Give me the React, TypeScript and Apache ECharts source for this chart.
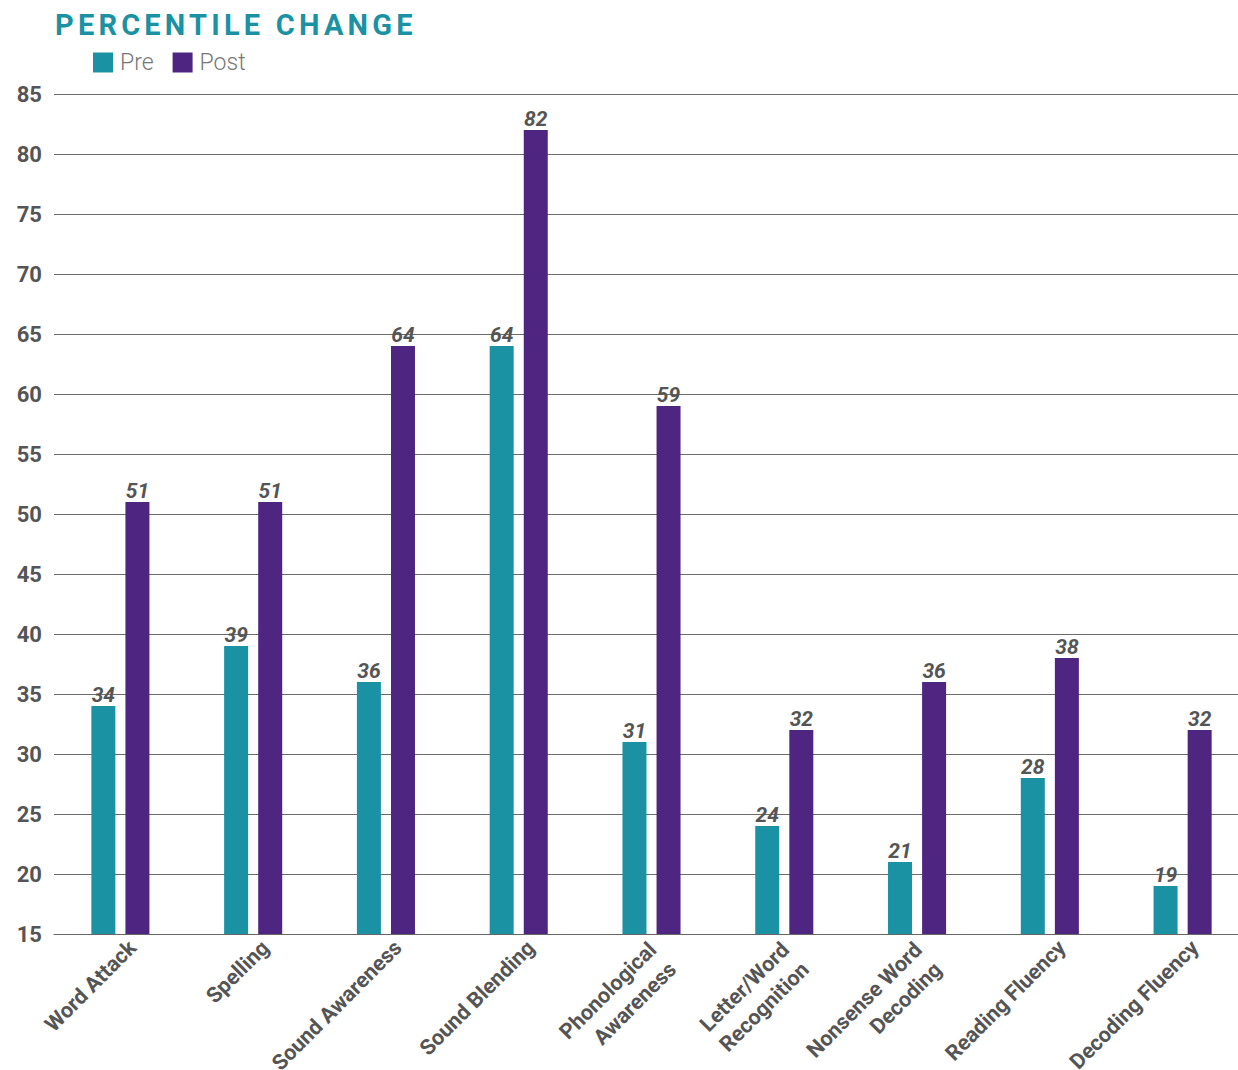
import React, { useEffect, useRef } from "react";
import * as echarts from "echarts";

const categories = [
  "Word Attack",
  "Spelling",
  "Sound Awareness",
  "Sound Blending",
  "Phonological\nAwareness",
  "Letter/Word\nRecognition",
  "Nonsense Word\nDecoding",
  "Reading Fluency",
  "Decoding Fluency",
];
const preValues = [34, 39, 36, 64, 31, 24, 21, 28, 19];
const postValues = [51, 51, 64, 82, 59, 32, 36, 38, 32];
const seriesNames = ["Pre", "Post"];
const titleText = "PERCENTILE CHANGE";

const TEAL = "#1A92A3";
const PURPLE = "#4F2582";
const LABEL = "#555555";

const GRID_LEFT = 54;
const GRID_WIDTH = 1195;
const GRID_TOP = 94;
const GRID_HEIGHT = 840;
const SINGLE_DX = 2;
const SINGLE_MARGIN = 0;
const MULTI_DX = -9;
const MULTI_MARGIN = 2;

export default function App() {
  const ref = useRef<HTMLDivElement>(null);
  useEffect(() => {
    document.body.style.margin = "0";
    const el = ref.current!;
    const chart = echarts.init(el, undefined, { renderer: "svg" });
    const labelStyle = {
      show: true,
      position: "top" as const,
      distance: 1,
      fontFamily: "Roboto",
      fontWeight: "bold" as const,
      fontStyle: "italic" as const,
      fontSize: 21,
      color: LABEL,
    };
    const spaceTitle = () => {
      const texts = el.querySelectorAll("text");
      texts.forEach((t) => {
        if (t.textContent === titleText) {
          t.setAttribute("letter-spacing", "4.2");
        }
      });
    };
    const makeGrid = (dx: number) => ({
      left: GRID_LEFT + dx,
      width: GRID_WIDTH,
      top: GRID_TOP,
      height: GRID_HEIGHT,
      containLabel: false,
      outerBoundsMode: "none",
    });
    const makeLabelAxis = (gridIndex: number, margin: number, multi: boolean) => ({
      type: "category",
      gridIndex,
      data: categories,
      axisTick: { show: false },
      axisLine: { show: false },
      splitLine: { show: false },
      axisLabel: {
        interval: 0,
        rotate: 45,
        margin,
        verticalAlign: "top",
        fontSize: 21.5,
        fontWeight: "bold",
        color: LABEL,
        fontFamily: "Roboto",
        lineHeight: 28,
        formatter: (v: string) => ((v.indexOf("\n") >= 0) === multi ? v : ""),
      },
    });
    const hiddenY = (gridIndex: number) => ({
      type: "value",
      gridIndex,
      min: 15,
      max: 85,
      interval: 5,
      show: false,
      splitLine: { show: false },
    });
    chart.on("finished", spaceTitle);
    chart.setOption({
      animation: false,
      textStyle: { fontFamily: "Roboto" },
      title: {
        text: titleText,
        left: 55,
        top: 10,
        padding: 0,
        textStyle: {
          fontFamily: "Roboto",
          fontWeight: "bold",
          fontSize: 29,
          color: TEAL,
        },
      },
      legend: {
        left: 93,
        top: 51,
        padding: 0,
        itemWidth: 20,
        itemHeight: 20,
        itemGap: 19,
        icon: "rect",
        textStyle: {
          fontSize: 23,
          lineHeight: 20,
          color: "#777",
          fontWeight: 300,
          fontFamily: "Roboto",
          padding: [0, 0, 0, 2],
        },
        data: seriesNames,
      },
      grid: [makeGrid(0), makeGrid(SINGLE_DX), makeGrid(MULTI_DX)],
      xAxis: [
        {
          type: "category",
          gridIndex: 0,
          data: categories,
          axisTick: { show: false },
          axisLine: { show: true, lineStyle: { color: "#666", width: 1 } },
          axisLabel: { show: false },
        },
        makeLabelAxis(1, SINGLE_MARGIN, false),
        makeLabelAxis(2, MULTI_MARGIN, true),
      ],
      yAxis: [
        {
          type: "value",
          gridIndex: 0,
          min: 15,
          max: 85,
          interval: 5,
          axisLine: { show: false },
          axisTick: { show: false },
          splitLine: { lineStyle: { color: "#6b6b6b", width: 1 } },
          axisLabel: {
            fontSize: 22,
            fontWeight: "bold",
            color: LABEL,
            fontFamily: "Roboto",
            margin: 12,
          },
        },
        hiddenY(1),
        hiddenY(2),
      ],
      series: [
        {
          name: seriesNames[0],
          type: "bar",
          data: preValues,
          barWidth: 24,
          barGap: "42%",
          itemStyle: { color: TEAL },
          label: labelStyle,
          z: 3,
        },
        {
          name: seriesNames[1],
          type: "bar",
          data: postValues,
          barWidth: 24,
          barGap: "42%",
          itemStyle: { color: PURPLE },
          label: labelStyle,
          z: 3,
        },
      ],
    });
    spaceTitle();
    const t1 = setTimeout(spaceTitle, 50);
    const t2 = setTimeout(spaceTitle, 300);
    return () => {
      clearTimeout(t1);
      clearTimeout(t2);
      chart.dispose();
    };
  }, []);
  return <div ref={ref} style={{ width: 1238, height: 1070 }} />;
}
